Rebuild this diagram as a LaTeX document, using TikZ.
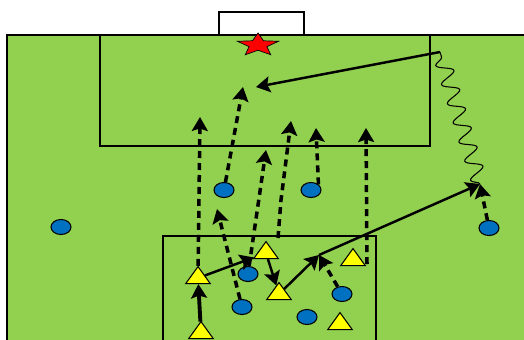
\documentclass[tikz,border=0pt]{standalone}
\usepackage{tikz}
\usetikzlibrary{arrows.meta, shapes.geometric, decorations.pathmorphing}
\definecolor{pitchgreen}{HTML}{92D050}
\definecolor{plblue}{HTML}{0070C0}
\definecolor{plyellow}{HTML}{FFFF00}
\definecolor{goalred}{HTML}{FF0000}

\begin{document}
\begin{tikzpicture}[
  x=0.02cm, y=-0.02cm,
  pitchline/.style={draw=black, line width=0.8pt},
  blueplayer/.style={ellipse, draw=black, line width=0.6pt, fill=plblue, minimum width=0.4cm, minimum height=0.3cm, inner sep=0pt},
  yellowplayer/.style={regular polygon, regular polygon sides=3, draw=black, line width=0.6pt, fill=plyellow, minimum size=0.57cm, inner sep=0pt, yscale=0.8},
  tip/.style={-{Stealth[length=0.28cm, width=0.32cm, inset=0.05cm]}},
  pass/.style={tip, line width=1.4pt},
  run/.style={tip, line width=2pt, dash pattern=on 0.14cm off 0.1cm},
  dribble/.style={line width=0.6pt, decorate, decoration={snake, amplitude=0.16cm, segment length=0.4cm}},
]
\useasboundingbox (0,0) rectangle (524,339);

% pitch
\draw[pitchline, fill=pitchgreen] (7,35) rectangle (540,360);
\draw[pitchline, fill=white] (219,12) rectangle (304,35);
\draw[pitchline] (100,35) rectangle (430,146);
\draw[pitchline] (163,236) rectangle (376,360);
\node[star, star points=5, star point ratio=2.3, draw=black, line width=0.4pt, fill=goalred, minimum size=0.48cm, inner sep=0pt, xscale=1.8] (gk) at (258,45) {};

% players
\node[blueplayer] (b1) at (61,227) {};
\node[blueplayer] (b2) at (224,190) {};
\node[blueplayer] (b3) at (311,190) {};
\node[blueplayer] (b4) at (489,228) {};
\node[blueplayer] (b5) at (248,274) {};
\node[blueplayer] (b6) at (242,307) {};
\node[blueplayer] (b7) at (307,317) {};
\node[blueplayer] (b8) at (342,294) {};

\node[yellowplayer] (y1) at (201,333) {};
\node[yellowplayer] (y2) at (198,278) {};
\node[yellowplayer] (y3) at (266,253) {};
\node[yellowplayer] (y4) at (279,294) {};
\node[yellowplayer] (y5) at (353,260) {};
\node[yellowplayer] (y6) at (340,324) {};

% end points of runs and passes
\coordinate (r1) at (243,87);
\coordinate (r2) at (200,117);
\coordinate (r3) at (266,150);
\coordinate (r4) at (291,121);
\coordinate (r5) at (316,128);
\coordinate (r6) at (217,209);
\coordinate (r7) at (366,128);
\coordinate (s4) at (278,238);
\coordinate (s7) at (367,264);
\coordinate (m1) at (319,255);
\coordinate (w1) at (480,184);
\coordinate (w2) at (440,52);
\coordinate (x1) at (256,87);

% runs
\draw[run] (b2) -- (r1);
\draw[run] (y2) -- (r2);
\draw[run] (b5) -- (r3);
\draw[run] (s4) -- (281,200) -- (r4);
\draw[run] (b3.north east) -- (r5);
\draw[run] (b6) -- (r6);
\draw[run] (s7) -- (r7);
\draw[run] (b8) -- (m1);
\draw[run] (b4) -- (w1);

% passes
\draw[pass, line width=2.2pt] (y1) -- (y2);
\draw[pass] (y2) -- (y3);
\draw[pass] (y3) -- (y4);
\draw[pass] (y4) -- (m1);
\draw[pass] (m1) -- (w1);
\draw[dribble] (w1) -- (w2);
\draw[pass] (w2) -- (x1);
\end{tikzpicture}
\end{document}
